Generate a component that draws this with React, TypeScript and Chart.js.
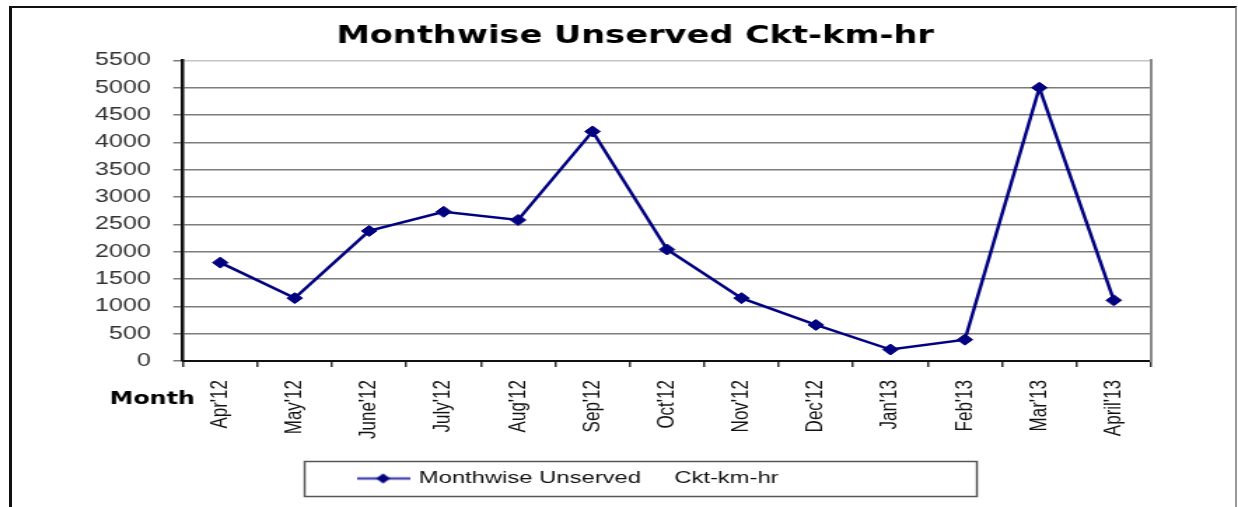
import React, { useEffect, useRef } from 'react';
import { Chart, registerables } from 'chart.js';

Chart.register(...registerables);

const months = ["Apr'12", "May'12", "June'12", "July'12", "Aug'12", "Sep'12", "Oct'12", "Nov'12", "Dec'12", "Jan'13", "Feb'13", "Mar'13", "April'13"];
const unserved = [1800, 1150, 2380, 2730, 2580, 4200, 2040, 1150, 660, 210, 390, 5000, 1110];
const seriesLabel = 'Monthwise Unserved     Ckt-km-hr';
const chartTitle = 'Monthwise Unserved Ckt-km-hr';
const xAxisLabel = 'Month';
const yMin = 0;
const yMax = 5500;
const yStep = 500;

// canvas is drawn narrower and stretched horizontally, like the reference picture
const CW = 884;
const CH = 507;
const SCREEN_W = 1238;

const monthLabelPlugin = {
  id: 'monthLabel',
  afterDraw(chart: any) {
    const { ctx, chartArea } = chart;
    ctx.save();
    ctx.font = 'bold 17px "DejaVu Sans", sans-serif';
    ctx.fillStyle = '#000';
    ctx.textAlign = 'center';
    ctx.textBaseline = 'middle';
    ctx.fillText(xAxisLabel, chartArea.left - 22, chartArea.bottom + 39);
    ctx.restore();
  },
};

const legendBoxPlugin = {
  id: 'legendBox',
  afterDraw(chart: any) {
    const legend = chart.legend;
    if (!legend || !legend.legendHitBoxes || !legend.legendHitBoxes.length) return;
    const hb = legend.legendHitBoxes[0];
    const { ctx } = chart;
    const cy = hb.top + hb.height / 2;
    ctx.save();
    ctx.strokeStyle = '#555';
    ctx.lineWidth = 1.5;
    ctx.strokeRect(hb.left - 39, cy - 17, 480, 35);
    ctx.restore();
  },
};

export default function App() {
  const ref = useRef<HTMLCanvasElement>(null);

  useEffect(() => {
    const canvas = ref.current;
    if (!canvas) return;

    const icon = document.createElement('canvas');
    icon.width = 38;
    icon.height = 12;
    const ic = icon.getContext('2d')!;
    ic.strokeStyle = '#4848b0';
    ic.lineWidth = 2.5;
    ic.beginPath();
    ic.moveTo(0, 6);
    ic.lineTo(38, 6);
    ic.stroke();
    ic.fillStyle = '#000080';
    ic.beginPath();
    ic.moveTo(14, 6);
    ic.lineTo(19, 1);
    ic.lineTo(24, 6);
    ic.lineTo(19, 11);
    ic.closePath();
    ic.fill();

    const chart = new Chart(canvas, {
      type: 'line',
      data: {
        labels: months,
        datasets: [
          {
            label: seriesLabel,
            data: unserved,
            borderColor: '#000080',
            backgroundColor: '#000080',
            borderWidth: 2.5,
            pointStyle: 'rectRot',
            pointRadius: 5.5,
            pointBorderWidth: 1,
            pointBackgroundColor: '#000080',
            pointBorderColor: '#000080',
            tension: 0,
            xAxisID: 'x',
            yAxisID: 'y',
          },
        ],
      },
      plugins: [monthLabelPlugin, legendBoxPlugin],
      options: {
        responsive: false,
        animation: false,
        devicePixelRatio: 1,
        layout: { padding: { left: 23, right: 0, top: 0, bottom: 10 } },
        plugins: {
          title: {
            display: true,
            text: chartTitle,
            color: '#000',
            font: { family: '"DejaVu Sans", sans-serif', size: 24, weight: 'bold' },
            padding: { top: 22.4, bottom: 9.2 },
          },
          legend: {
            display: true,
            position: 'bottom',
            labels: {
              font: { family: '"Liberation Sans", Arial, sans-serif', size: 17 },
              color: '#111',
              usePointStyle: true,
              pointStyleWidth: 34,
              padding: 10,
              generateLabels: (ch: any) =>
                ch.data.datasets.map((ds: any, i: number) => ({
                  text: ds.label + ' '.repeat(20),
                  fillStyle: '#000080',
                  strokeStyle: '#000080',
                  lineWidth: 0,
                  pointStyle: icon,
                  hidden: false,
                  datasetIndex: i,
                  fontColor: '#111',
                })),
            },
          },
          tooltip: { enabled: false },
        },
        scales: {
          x: {
            type: 'category',
            offset: true,
            grid: {
              offset: true,
              drawOnChartArea: false,
              drawTicks: true,
              tickLength: 6,
              color: '#333',
              lineWidth: 1.5,
            },
            border: { color: '#111', width: 2 },
            ticks: {
              autoSkip: false,
              maxRotation: 90,
              minRotation: 90,
              padding: 13,
              color: '#111',
              font: { family: '"Liberation Sans", Arial, sans-serif', size: 17 },
            },
            afterFit: (s: any) => {
              s.height = 99;
            },
          },
          y: {
            type: 'linear',
            position: 'left',
            min: yMin,
            max: yMax,
            ticks: {
              stepSize: yStep,
              padding: 16,
              color: '#333',
              font: { family: '"Liberation Sans", Arial, sans-serif', size: 18 },
              callback: (v: any) => String(v),
            },
            grid: {
              color: (c: any) =>
                c.tick && c.tick.value === yMax ? '#c4c4c4' : c.tick && c.tick.value === yMin ? '#111' : '#7c7c7c',
              tickColor: '#7c7c7c',
              tickLength: 7,
              lineWidth: 1.5,
            },
            border: { color: '#111', width: 2.5 },
            afterFit: (s: any) => {
              s.width = 107.7;
            },
          },
          y2: {
            type: 'linear',
            position: 'right',
            display: true,
            grid: { display: false },
            ticks: { display: false },
            border: { color: '#8a8a8a', width: 2 },
            afterFit: (s: any) => {
              s.width = 62.1;
            },
          },
        },
      },
    } as any);

    return () => chart.destroy();
  }, []);

  return (
    <div
      style={{
        position: 'fixed',
        left: 0,
        top: 0,
        width: SCREEN_W,
        height: CH,
        background: '#fff',
        overflow: 'hidden',
      }}
    >
      <canvas
        ref={ref}
        width={CW}
        height={CH}
        style={{ position: 'absolute', left: 0, top: 0, width: SCREEN_W + 'px', height: CH + 'px' }}
      />
      <div
        style={{
          position: 'absolute',
          left: 9,
          top: 6,
          width: 1228,
          height: 530,
          boxSizing: 'border-box',
          borderLeft: '3px solid #111',
          borderTop: '2px solid #111',
          borderRight: '2px solid #999',
          pointerEvents: 'none',
        }}
      />
    </div>
  );
}
